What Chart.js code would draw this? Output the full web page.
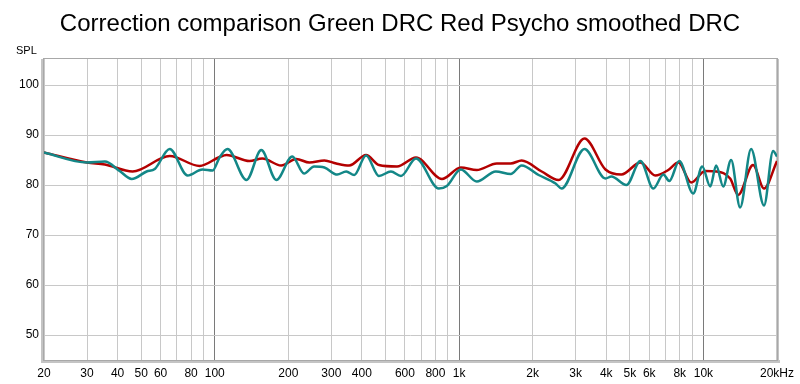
<!DOCTYPE html>
<html>
<head>
<meta charset="utf-8">
<script src="https://cdn.jsdelivr.net/npm/chart.js@4/dist/chart.umd.min.js"></script>
<style>
html,body{margin:0;padding:0;background:#fff;}
#wrap{position:relative;width:800px;height:384px;}
</style>
</head>
<body>
<div id="wrap"><canvas id="c"></canvas></div>
<script>
const chartTitle = "Correction comparison Green DRC Red Psycho smoothed DRC";
const yAxisTitle = "SPL";

const greenFreq = [20, 30, 35.5, 40.8, 45.7, 52.6, 56.8, 65.4, 77.4, 89, 98, 104.6, 112.7, 134.9, 155, 178.6, 207.6, 232, 255, 281, 317, 345, 372, 416, 470, 526, 578, 666, 826, 891, 1016, 1181, 1413, 1626, 1803, 2115, 2482, 2626, 3260, 3972, 4200, 4842, 5521, 6238, 6855, 7250, 7960, 9080, 9886, 10666, 11270, 12050, 12980, 14130, 15670, 17700, 19280, 20000];
const greenSpl  = [86.5, 84.5, 84.7, 82.8, 81.2, 82.7, 83.2, 87.2, 81.9, 83.1, 82.9, 85.5, 87.2, 81.0, 87.0, 81.0, 85.7, 82.3, 83.7, 83.5, 82.1, 82.7, 82.0, 85.9, 81.8, 82.7, 81.8, 85.3, 79.3, 79.8, 83.1, 80.7, 82.7, 82.2, 83.9, 82.0, 80.3, 79.3, 87.2, 81.3, 81.7, 80.0, 84.8, 79.3, 82.1, 80.8, 84.8, 78.3, 83.7, 79.7, 83.9, 79.7, 85.0, 75.5, 87.2, 75.9, 86.8, 85.7];

const redFreq = [20, 30, 35.5, 46.1, 65.4, 86.7, 104.6, 111.7, 138.6, 156.6, 187, 215.6, 243.8, 281, 314, 355, 416, 470, 557, 666, 851, 1016, 1181, 1426, 1626, 1803, 2178, 2554, 3260, 3972, 4616, 5521, 6354, 7178, 7890, 8914, 10163, 11270, 12860, 13870, 15960, 17700, 20000];
const redSpl  = [86.5, 84.5, 84.1, 82.7, 85.8, 83.8, 85.6, 86.0, 84.8, 85.3, 83.9, 85.2, 84.5, 84.9, 84.3, 83.9, 86.0, 84.0, 83.7, 85.5, 81.2, 83.5, 83.0, 84.3, 84.3, 84.9, 82.7, 81.0, 89.3, 83.1, 82.1, 84.5, 81.9, 83.0, 84.5, 80.5, 82.8, 82.7, 81.3, 78.0, 84.0, 79.3, 84.8];

const xGridValues = [20,30,40,50,60,70,80,90,100,200,300,400,500,600,700,800,900,1000,2000,3000,4000,5000,6000,7000,8000,9000,10000,20000];
const xLabelValues = [20,30,40,50,60,80,100,200,300,400,600,800,1000,2000,3000,4000,5000,6000,8000,10000,20000];
const xLabelTexts  = ["20","30","40","50","60","80","100","200","300","400","600","800","1k","2k","3k","4k","5k","6k","8k","10k","20kHz"];
const yTickValues = [50,60,70,80,90,100];

const greenColor = "#138787";
const redColor = "#b30000";

function toPoints(fs, vs){ return fs.map((f,i)=>({x:f, y:vs[i]})); }

const framePlugin = {
  id: 'frame',
  beforeDraw(chart){
    const {ctx, chartArea:a} = chart;
    ctx.save();
    ctx.fillStyle = '#fff';
    ctx.fillRect(a.left, a.top, a.right-a.left, a.bottom-a.top);
    ctx.restore();
  },
  afterDraw(chart){
    const {ctx, chartArea:a} = chart;
    ctx.save();
    // shadow-like border
    ctx.fillStyle = '#c4c4c4';
    ctx.fillRect(a.left-3, a.top, 3, a.bottom-a.top+3);
    ctx.fillRect(a.left-3, a.bottom, a.right-a.left+6, 3);
    ctx.fillRect(a.right, a.top, 2, a.bottom-a.top+3);
    ctx.strokeStyle = '#a8a8a8';
    ctx.lineWidth = 1;
    ctx.strokeRect(a.left-0.5, a.top-0.5, a.right-a.left+1, a.bottom-a.top+1);
    // title
    ctx.fillStyle = '#000';
    ctx.font = '24px "Liberation Sans", Arial, sans-serif';
    ctx.textAlign = 'center';
    ctx.textBaseline = 'alphabetic';
    ctx.fillText(chartTitle, 400, 31);
    ctx.font = '11px "Liberation Sans", Arial, sans-serif';
    ctx.textAlign = 'left';
    ctx.fillText(yAxisTitle, 16, 54);
    ctx.restore();
  }
};

new Chart(document.getElementById('c'), {
  type: 'line',
  data: {
    datasets: [
      { label: 'Green DRC', data: toPoints(greenFreq, greenSpl), borderColor: greenColor, borderWidth: 2.5,
        pointRadius: 0, cubicInterpolationMode: 'monotone', fill: false },
      { label: 'Red Psycho smoothed DRC', data: toPoints(redFreq, redSpl), borderColor: redColor, borderWidth: 2.5,
        pointRadius: 0, cubicInterpolationMode: 'monotone', fill: false }
    ]
  },
  options: {
    responsive: true,
    maintainAspectRatio: false,
    animation: false,
    layout: { padding: { left: 0, right: 22, top: 59, bottom: 0 } },
    plugins: { legend: { display: false }, title: { display: false }, tooltip: { enabled: false } },
    scales: {
      x: {
        type: 'logarithmic', min: 20, max: 20000,
        afterBuildTicks(s){ s.ticks = xGridValues.map(v=>({value:v})); },
        afterFit(s){ s.height = 24; },
        border: { display: false },
        grid: {
          drawTicks: false,
          color: (c)=> [100,1000,10000].includes(c.tick && c.tick.value) ? '#7a7a7a' : '#c8c8c8',
          lineWidth: 1
        },
        ticks: {
          autoSkip: false, maxRotation: 0, padding: 6, color: '#000',
          font: { family: '"Liberation Sans", Arial, sans-serif', size: 12 },
          callback(v){ const i = xLabelValues.indexOf(v); return i >= 0 ? xLabelTexts[i] : ''; }
        }
      },
      y: {
        type: 'linear', min: 45, max: 105.2,
        afterBuildTicks(s){ s.ticks = yTickValues.map(v=>({value:v})); },
        afterFit(s){ s.width = 44; },
        border: { display: false },
        grid: { drawTicks: false, color: '#c8c8c8', lineWidth: 1 },
        ticks: {
          padding: 5, color: '#000',
          font: { family: '"Liberation Sans", Arial, sans-serif', size: 12 }
        }
      }
    }
  },
  plugins: [framePlugin]
});
</script>
</body>
</html>
